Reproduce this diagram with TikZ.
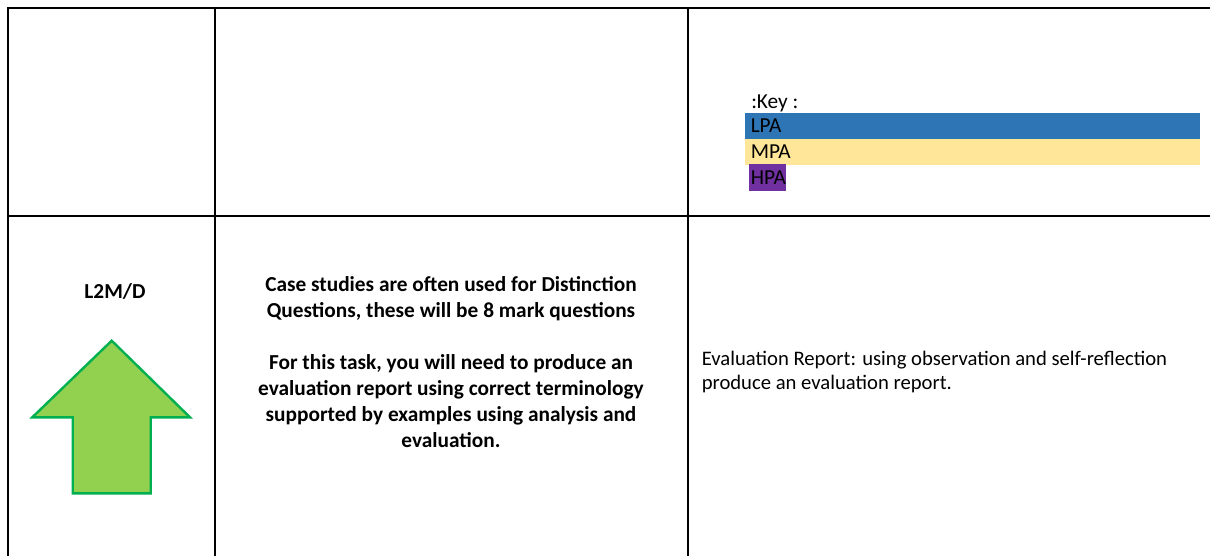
\documentclass[tikz,border=0pt]{standalone}
\usepackage{fontspec}
\setmainfont{Carlito}
\definecolor{lpa}{HTML}{2E75B6}
\definecolor{mpa}{HTML}{FFE699}
\definecolor{hpa}{HTML}{7030A0}
\definecolor{arrowfill}{HTML}{92D050}
\definecolor{arrowline}{HTML}{00B050}
\tikzset{
  grid/.style={line width=1.6pt, black},
  celltext/.style={font=\fontsize{15.5}{18}\selectfont, inner sep=0pt},
  boldtext/.style={font=\fontsize{16}{19.5}\selectfont\bfseries, inner sep=0pt, align=center},
  keytext/.style={font=\fontsize{16}{18}\selectfont, inner sep=0pt, anchor=base west}
}
\begin{document}
\begin{tikzpicture}[x=0.75pt,y=-0.75pt]
\useasboundingbox (0,0) rectangle (1210,556);
% key bars
\fill[lpa] (745,113) rectangle (1200,139);
\fill[mpa] (745,139) rectangle (1200,164.7);
\fill[hpa] (749,164.5) rectangle (786,191);
\node[keytext] (key) at (751,108.3) {:Key :};
\node[keytext] (lpa) at (750.5,132.7) {LPA};
\node[keytext] (mpa) at (750.5,158.3) {MPA};
\node[keytext] (hpa) at (750.5,185) {HPA};
% grid
\draw[grid] (8.3,556) -- (8.3,8) -- (1210,8);
\draw[grid] (8.3,216) -- (1210,216);
\draw[grid] (215.3,8) -- (215.3,556);
\draw[grid] (688,8) -- (688,556);
% arrow
\draw[line width=1.8pt, arrowline, fill=arrowfill, line join=miter]
  (111.7,340.7) -- (190,417.3) -- (150.7,417.3) -- (150.7,493.3)
  -- (72.7,493.3) -- (72.7,417.3) -- (32.3,417.3) -- cycle;
\node[boldtext] (lvl) at (115,291.5) {L2M/D};
% middle text
\node[boldtext, anchor=north] (mid) at (451,276) {Case studies are often used for Distinction\\Questions, these will be 8 mark questions\\[19.5pt]For this task, you will need to produce an\\evaluation report using correct terminology\\supported by examples using analysis and\\evaluation.};
% right text
\node[celltext, anchor=north west, align=left] (eval) at (701.5,350.5) {Evaluation Report: using observation and self-reflection\\produce an evaluation report.};
\end{tikzpicture}
\end{document}
